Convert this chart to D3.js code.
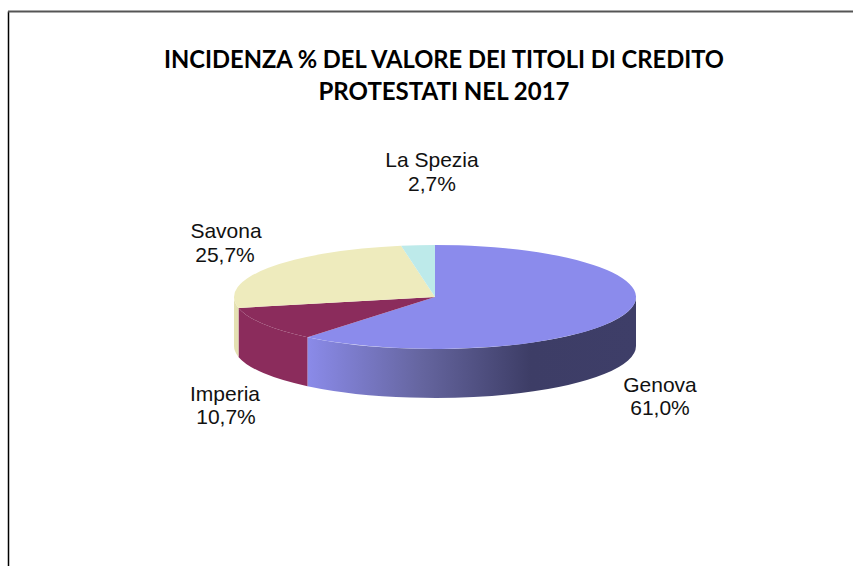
<!DOCTYPE html>
<html>
<head>
<meta charset="utf-8">
<script src="https://cdn.jsdelivr.net/npm/d3@7"></script>
<style>
  html, body { margin: 0; padding: 0; background: #fff; overflow: hidden; }
  svg { display: block; }
  .titolo { font-family: Lato, sans-serif; font-weight: 700; font-size: 25px; fill: #000; text-anchor: middle; }
  .etichetta { font-family: "Liberation Sans", Arial, sans-serif; font-size: 21px; fill: #111; text-anchor: middle; }
</style>
</head>
<body>
<div id="graf"></div>
<script>
// I. Dati
province = ['Genova', 'Imperia', 'Savona', 'La Spezia']
valori = [61.0, 10.7, 25.7, 2.7]
etichette = ['61,0%', '10,7%', '25,7%', '2,7%']
colori = ['#8b8bec', '#8b2c5c', '#eeebbd', '#bdeaea']
colori_lato = ['url(#lato-genova)', '#8b2c5c', '#e4e1b2', '#a9d4d4']
titolo = ['INCIDENZA % DEL VALORE DEI TITOLI DI CREDITO', 'PROTESTATI NEL 2017']
larghezza_titolo = [560, 251]

// II. Configuración
ancho_total = 853
alto_total = 566
cx = 435
cy = 297
rx = 201
ry = 52
spessore = 49

svg = d3.select('#graf').append('svg')
        .attr('width', ancho_total)
        .attr('height', alto_total)

grad = svg.append('defs').append('linearGradient')
          .attr('id', 'lato-genova')
          .attr('gradientUnits', 'userSpaceOnUse')
          .attr('x1', 306).attr('x2', 636).attr('y1', 0).attr('y2', 0)
grad.append('stop').attr('offset', '0%').attr('stop-color', '#8b8bea')
grad.append('stop').attr('offset', '35%').attr('stop-color', '#65659f')
grad.append('stop').attr('offset', '68%').attr('stop-color', '#3d3d66')
grad.append('stop').attr('offset', '100%').attr('stop-color', '#3e3e68')

// cornice
svg.append('path')
   .attr('d', 'M8.5,566 V11.5')
   .attr('fill', 'none')
   .attr('stroke', '#000')
   .attr('stroke-width', 1.5)
svg.append('path')
   .attr('d', 'M8,11.5 H853')
   .attr('fill', 'none')
   .attr('stroke', '#555')
   .attr('stroke-width', 1.8)

// titolo
svg.selectAll('.titolo')
   .data(titolo)
   .enter().append('text')
     .attr('class', 'titolo')
     .attr('x', 444)
     .attr('y', (d, i) => 68 + i * 32)
     .attr('textLength', (d, i) => larghezza_titolo[i])
     .attr('lengthAdjust', 'spacingAndGlyphs')
     .text(d => d)

// III. Torta
pie = d3.pie().sort(null).value(d => d)
fette = pie(valori)

punto = (a, dy) => [cx + rx * Math.sin(a), cy - ry * Math.cos(a) + dy]

// lato visibile: solo la parte anteriore dell'ellisse, chiuso sul centro
// cosi' la faccia superiore lo copre senza lasciare una riga chiara
function lato(d) {
  a0 = Math.max(d.startAngle, Math.PI / 2)
  a1 = Math.min(d.endAngle, Math.PI * 3 / 2)
  if (a1 <= a0) return ''
  p0 = punto(a0, 0)
  p1 = punto(a1, 0)
  q1 = punto(a1, spessore)
  q0 = punto(a0, spessore)
  return `M${cx},${cy} L${p0} A${rx},${ry} 0 0 1 ${p1} L${q1} A${rx},${ry} 0 0 0 ${q0} L${p0} Z`
}

svg.selectAll('.lato')
   .data(fette)
   .enter().append('path')
     .attr('class', 'lato')
     .attr('d', lato)
     .attr('fill', (d, i) => colori_lato[i])

arco = d3.arc().innerRadius(0).outerRadius(rx)

svg.append('g')
   .attr('transform', `translate(${cx}, ${cy}) scale(1, ${ry / rx})`)
   .selectAll('path')
   .data(fette)
   .enter().append('path')
     .attr('d', arco)
     .attr('fill', (d, i) => colori[i])

// IV. Etichette
pos_nomi = [[660, 392], [225, 401], [226, 238], [432, 167]]
pos_valori = [[660, 415], [226, 424], [225, 262], [432, 191]]

etichetta = svg.selectAll('.etichetta')
               .data(province)
               .enter().append('text')
                 .attr('class', 'etichetta')
etichetta.append('tspan')
         .attr('x', (d, i) => pos_nomi[i][0])
         .attr('y', (d, i) => pos_nomi[i][1])
         .text(d => d)
etichetta.append('tspan')
         .attr('x', (d, i) => pos_valori[i][0])
         .attr('y', (d, i) => pos_valori[i][1])
         .text((d, i) => etichette[i])
</script>
</body>
</html>
